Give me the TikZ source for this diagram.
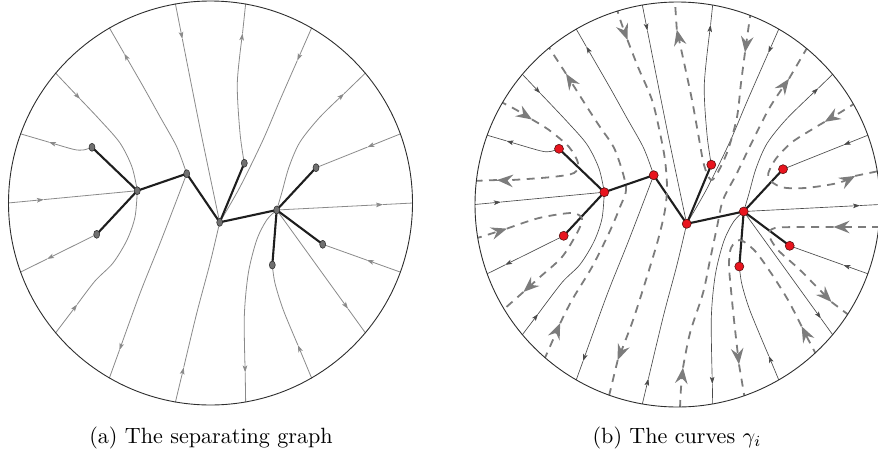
\documentclass[tikz,border=0pt]{standalone}
\usetikzlibrary{arrows.meta,calc,shapes.geometric,backgrounds}
\definecolor{flowA}{HTML}{8A8A8A}
\definecolor{flowB}{HTML}{4A4A4A}
\definecolor{dashc}{HTML}{7C7C7C}
\definecolor{vgray}{HTML}{707070}
\definecolor{vred}{HTML}{E8141E}
\definecolor{vredb}{HTML}{5A1010}
\definecolor{edgec}{HTML}{1E1E1E}
\definecolor{rimc}{HTML}{2E2E2E}
\tikzset{
  farr/.style={-{Stealth[length=7pt,width=4.6pt,inset=1.6pt]}},
  gedge/.style={line width=2.1pt,color=edgec,line cap=round,line join=round},
  rim/.style={line width=0.9pt,color=rimc},
  gam/.style={color=dashc,line width=1.8pt,dash pattern=on 8pt off 6.5pt},
  garr/.style={-{Stealth[length=16pt,width=12.5pt,inset=5.5pt]}},
  captxt/.style={anchor=base,inner sep=0pt}
}
\newcommand\network[1]{%
  \node[vtx] (#1V1) at (-73.2,-12.3) {};
  \node[vtx] (#1V2) at (-23.8,-29.3) {};
  \node[vtx] (#1V3) at (9.2,19.3) {};
  \node[vtx] (#1V4) at (66.2,7) {};
  \node[vtx] (#1A1) at (-118.5,-55.7) {};
  \node[vtx] (#1A2) at (-113.8,31.3) {};
  \node[vtx] (#1A3) at (33.8,-39.8) {};
  \node[vtx] (#1A4) at (105.5,-35.3) {};
  \node[vtx] (#1A5) at (112.2,41.3) {};
  \node[vtx] (#1A6) at (61.8,62) {};
  \foreach \k in {1,...,18} {\coordinate (#1b\k) at ({-120+20*\k}:202.5);}
  \coordinate (#1t1) at ($(#1b1)!\dto!(-9.5,-70)$);
  \coordinate (#1t2) at ($(#1b2)!\dfrom!(26.8,-120)$);
  \coordinate (#1t3) at ($(#1b3)!\dto!(69.5,-103)$);
  \coordinate (#1t4) at ($(#1b4)!\dfrom!(109.5,-86)$);
  \coordinate (#1t5) at ($(#1b5)!\dto!(#1A4.center)$);
  \coordinate (#1t6) at ($(#1b6)!\dfrom!(#1V4.center)$);
  \coordinate (#1t7) at ($(#1b7)!\dto!(#1A5.center)$);
  \coordinate (#1t8) at ($(#1b8)!\dfrom!(#1V4.center)$);
  \coordinate (#1t9) at ($(#1b9)!\dto!(72.8,107)$);
  \coordinate (#1t10) at ($(#1b10)!\dfrom!(33.8,113.7)$);
  \coordinate (#1t11) at ($(#1b11)!\dto!(-13.8,110.3)$);
  \coordinate (#1t12) at ($(#1b12)!\dfrom!(-70.5,90.3)$);
  \coordinate (#1t13) at ($(#1b13)!\dto!(-115.5,78)$);
  \coordinate (#1t14) at ($(#1b14)!\dfrom!(#1A2.center)$);
  \coordinate (#1t15) at ($(#1b15)!\dto!(#1V1.center)$);
  \coordinate (#1t16) at ($(#1b16)!\dfrom!(-137.2,-53.7)$);
  \coordinate (#1t17) at ($(#1b17)!\dto!(-110.5,-83)$);
  \coordinate (#1t18) at ($(#1b18)!\dfrom!(-67.2,-116.3)$);
  \begin{pgfonlayer}{background}
  % 1
  \draw[flow,farr] (#1b1) -- (#1t1);
  \draw[flow] plot[smooth] coordinates {(#1t1) (-9.5,-70) (#1V3.center)};
  % 2
  \draw[flow,farr] plot[smooth] coordinates {(#1A3.center) (29.5,-70) (26.8,-120) (#1t2)};
  \draw[flow] (#1t2) -- (#1b2);
  % 3
  \draw[flow,farr] (#1b3) -- (#1t3);
  \draw[flow] plot[smooth] coordinates {(#1t3) (69.5,-103) (52.5,-63) (29.5,-16) (#1V3.center)};
  % 4
  \draw[flow,farr] plot[smooth] coordinates {(#1V4.center) (71.5,-11) (78.5,-36) (89.5,-61) (109.5,-86) (#1t4)};
  \draw[flow] (#1t4) -- (#1b4);
  % 5
  \draw[flow,farr] (#1b5) -- (#1t5);
  \draw[flow] (#1t5) -- (#1A4.center);
  % 6
  \draw[flow,farr] (#1V4.center) -- (#1t6);
  \draw[flow] (#1t6) -- (#1b6);
  % 7
  \draw[flow,farr] (#1b7) -- (#1t7);
  \draw[flow] (#1t7) -- (#1A5.center);
  % 8
  \draw[flow,farr] (#1V4.center) -- (#1t8);
  \draw[flow] (#1t8) -- (#1b8);
  % 9
  \draw[flow,farr] (#1b9) -- (#1t9);
  \draw[flow] plot[smooth] coordinates {(#1t9) (72.8,107) (64.5,80.3) (#1A6.center)};
  % 10
  \draw[flow,farr] plot[smooth] coordinates {(#1V4.center) (56.2,17) (46.2,37) (37.8,70.3) (33.8,113.7) (#1t10)};
  \draw[flow] (#1t10) -- (#1b10);
  % 11
  \draw[flow,farr] (#1b11) -- (#1t11);
  \draw[flow] plot[smooth] coordinates {(#1t11) (-13.8,110.3) (-0.5,60.3) (#1V3.center)};
  % 12
  \draw[flow,farr] plot[smooth] coordinates {(#1V2.center) (-33.8,-3) (-50.5,40.3) (-70.5,90.3) (#1t12)};
  \draw[flow] (#1t12) -- (#1b12);
  % 13
  \draw[flow,farr] (#1b13) -- (#1t13);
  \draw[flow] plot[smooth] coordinates {(#1t13) (-115.5,78) (-97.5,60) (-83.5,37) (-75.5,14) (#1V1.center)};
  % 14
  \draw[flow,farr] (#1A2.center) -- (#1t14);
  \draw[flow] (#1t14) -- (#1b14);
  % 15
  \draw[flow,farr] (#1b15) -- (#1t15);
  \draw[flow] (#1t15) -- (#1V1.center);
  % 16
  \draw[flow,farr] plot[smooth] coordinates {(#1A1.center) (-127.2,-53) (-137.2,-53.7) (#1t16)};
  \draw[flow] (#1t16) -- (#1b16);
  % 17
  \draw[flow,farr] (#1b17) -- (#1t17);
  \draw[flow] plot[smooth] coordinates {(#1t17) (-110.5,-83) (-90.5,-60) (-78.5,-36) (#1V1.center)};
  % 18
  \draw[flow,farr] plot[smooth] coordinates {(#1V2.center) (-33.8,-56.3) (-50.5,-86.3) (-67.2,-116.3) (#1t18)};
  \draw[flow] (#1t18) -- (#1b18);
  % graph edges
  \draw[gedge] (#1A1.center) -- (#1V1.center) -- (#1A2.center);
  \draw[gedge] (#1V1.center) -- (#1V2.center) -- (#1V3.center) -- (#1V4.center);
  \draw[gedge] (#1V3.center) -- (#1A3.center);
  \draw[gedge] (#1A4.center) -- (#1V4.center) -- (#1A5.center);
  \draw[gedge] (#1V4.center) -- (#1A6.center);
  \end{pgfonlayer}
}
\begin{document}
\begin{tikzpicture}[x=1pt,y=-1pt]
\useasboundingbox (0,0) rectangle (878,458);
% (a) left disc
\begin{scope}[shift={(210.5,203)},
   vtx/.style={ellipse,draw=black!85,fill=vgray,line width=0.5pt,minimum width=6pt,minimum height=8pt,inner sep=0pt},
   flow/.style={line width=0.8pt,color=flowA}]
  \def\dto{36pt}\def\dfrom{30pt}
  \network{L}
  \draw[rim] (0,0) circle (202);
\end{scope}
% (b) dashed curves gamma_i
\begin{scope}
  \clip (677.5,204.5) circle (202.5);
  % A
  \draw[gam,garr] plot[smooth] coordinates {(499,101) (516,109.7) (532,119.5)};
  \draw[gam,garr] plot[smooth] coordinates {(532,119.5) (549,130) (569,147) (578,163) (574,173) (552,177) (512,180) (497,180)};
  \draw[gam] (497,180) -- (472,181);
  % B
  \draw[gam,garr] plot[smooth] coordinates {(474,239) (490,234) (507,228.6)};
  \draw[gam,garr] plot[smooth] coordinates {(507,228.6) (539,218) (572,213) (582,219) (577,233) (562,257) (540,277) (523.4,292)};
  \draw[gam] (523.4,292) -- (503,310);
  % C
  \draw[gam,garr] plot[smooth] coordinates {(544,360) (552,342) (560.2,323.2)};
  \draw[gam,garr] plot[smooth] coordinates {(560.2,323.2) (572,300) (592,267) (609,233) (620,207) (626,187) (615,150) (600,127) (587,107) (566,73.7)};
  \draw[gam] (566,73.7) -- (548,46);
  % D
  \draw[gam,garr] plot[smooth] coordinates {(616,6) (621,22) (627.5,40)};
  \draw[gam,garr] plot[smooth] coordinates {(627.5,40) (638,67) (652,100) (660,133) (665,160) (667,187) (665,210) (658,240) (645,283) (632,323) (617.7,360.1)};
  \draw[gam] (617.7,360.1) -- (609,396);
  % E
  \draw[gam,garr] plot[smooth] coordinates {(751,10) (748,31) (745,52.4)};
  \draw[gam,garr] plot[smooth] coordinates {(745,52.4) (741,83) (737,117) (728,150) (718,172) (711,180) (704,165) (698,133) (692,100) (685,67) (676.8,29.6)};
  \draw[gam] (676.8,29.6) -- (675,2);
  % F
  \draw[gam,garr] plot[smooth] coordinates {(680,408) (681,388) (683,367.6)};
  \draw[gam,garr] plot[smooth] coordinates {(683,367.6) (690,333) (703,293) (710,260) (717,227) (723,200) (737,173) (753,140) (770,107) (789,78.7)};
  \draw[gam] (789,78.7) -- (807,48);
  % G
  \draw[gam,garr] plot[smooth] coordinates {(857,102) (841,112) (824.6,121.9)};
  \draw[gam,garr] plot[smooth] coordinates {(824.6,121.9) (811,130) (791,143) (775,160) (768,177) (781,187) (805,188) (838,183) (855.2,175.9)};
  \draw[gam] (855.2,175.9) -- (879,171);
  % H
  \draw[gam,garr] plot[smooth] coordinates {(880,227) (857,227) (833.5,227)};
  \draw[gam,garr] plot[smooth] coordinates {(833.5,227) (805,227) (775,228) (769,235) (778,250) (800,270) (831.5,302)};
  \draw[gam] (831.5,302) -- (850,316);
  % I
  \draw[gam,garr] plot[smooth] coordinates {(817,356) (809,341) (801.6,326.3)};
  \draw[gam,garr] plot[smooth] coordinates {(801.6,326.3) (788,300) (771,273) (755,251) (740,240) (731,248) (729,265) (731,290) (734,320) (739,364.4)};
  \draw[gam] (739,364.4) -- (745,400);
\end{scope}
% (b) right disc network
\begin{scope}[shift={(677.5,204.5)},
   vtx/.style={circle,draw=vredb,fill=vred,line width=0.6pt,minimum size=9pt,inner sep=0pt},
   flow/.style={line width=0.65pt,color=flowB}]
  \def\dto{26pt}\def\dfrom{20pt}
  \network{R}
  \draw[rim] (0,0) circle (202.5);
\end{scope}
\node[captxt] (capa) at (211,443) {\scalebox{2.21}{(a)\ The separating graph}};
\node[captxt] (capb) at (677,443) {\scalebox{2.21}{(b)\ The curves $\gamma_i$}};
\end{tikzpicture}
\end{document}
